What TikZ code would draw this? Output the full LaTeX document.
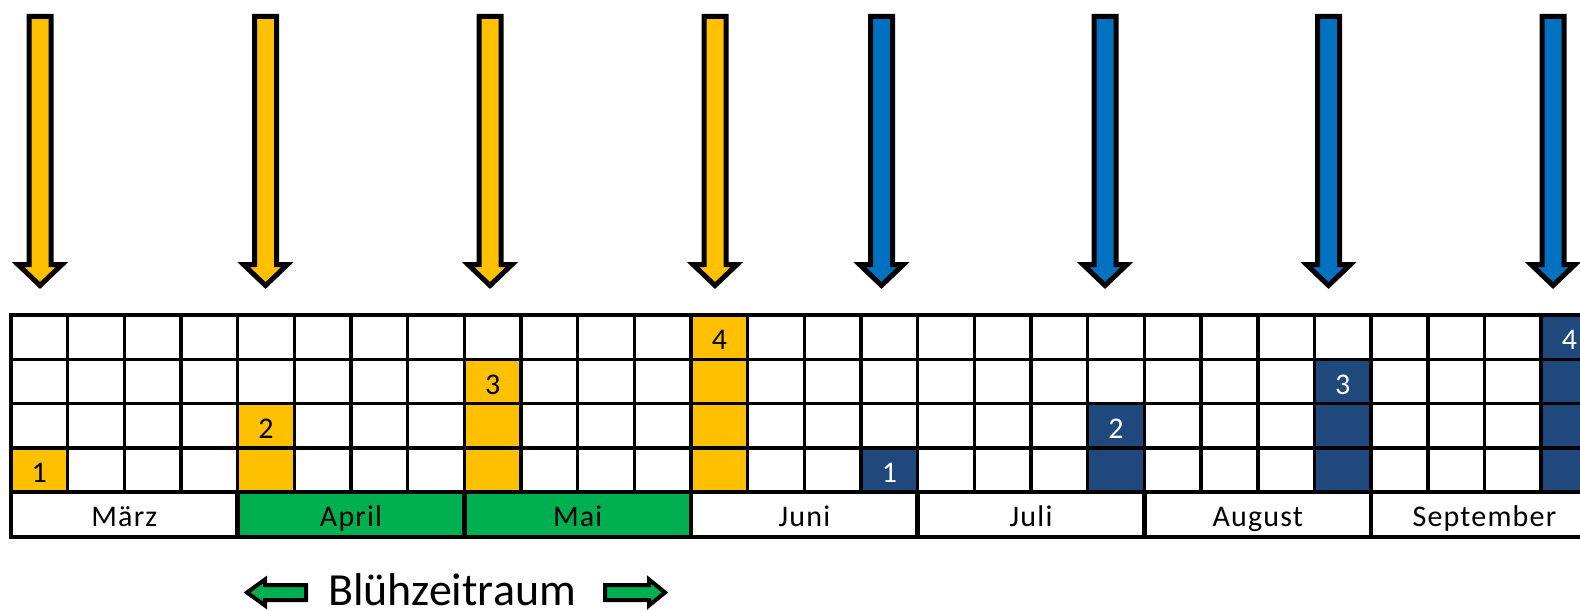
\documentclass[tikz,border=0pt]{standalone}
\usepackage{fontspec}
\setmainfont{Carlito}
\newfontfamily\spacedfont[LetterSpace=4]{Carlito}
\definecolor{amber}{HTML}{FFC000}
\definecolor{navy}{HTML}{1F497D}
\definecolor{arrowblue}{HTML}{0070C0}
\definecolor{leafgreen}{HTML}{00B050}
\newcommand\dnarrow[2]{%
  \draw[arrowshape, fill=#2] (#1-11,16.5) -- (#1+11,16.5) -- (#1+11,264.5) -- (#1+22,264.5)
    -- (#1,285.5) -- (#1-22,264.5) -- (#1-11,264.5) -- cycle;}
\begin{document}
\begin{tikzpicture}[x=1bp,y=-1bp,
  arrowshape/.style={line width=5bp, line join=miter, draw=black},
  gridline/.style={line width=3.5bp, draw=black},
  monthline/.style={line width=4.5bp, draw=black},
  celltext/.style={font=\fontsize{30bp}{36bp}\selectfont, anchor=base, inner sep=0pt},
  monthtext/.style={font=\spacedfont\fontsize{30bp}{36bp}\selectfont, anchor=base, inner sep=0pt},
  bigtext/.style={font=\fontsize{46bp}{52bp}\selectfont, anchor=base, inner sep=0pt},
  greenarrow/.style={line width=4bp, line join=miter, draw=black, fill=leafgreen}]
\clip (0,0) rectangle (1580,611);
\fill[white] (0,0) rectangle (1580,611);
\def\W{56.67}
\def\H{44.25}
% down arrows
\dnarrow{40}{amber}
\dnarrow{265.5}{amber}
\dnarrow{490}{amber}
\dnarrow{715}{amber}
\dnarrow{881.5}{arrowblue}
\dnarrow{1105}{arrowblue}
\dnarrow{1328.5}{arrowblue}
\dnarrow{1553}{arrowblue}
% coloured cells
\foreach \c/\r/\col in {0/4/amber, 4/3/amber, 4/4/amber, 8/2/amber, 8/3/amber, 8/4/amber,
  12/1/amber, 12/2/amber, 12/3/amber, 12/4/amber,
  15/4/navy, 19/3/navy, 19/4/navy, 23/2/navy, 23/3/navy, 23/4/navy,
  27/1/navy, 27/2/navy, 27/3/navy, 27/4/navy}
  \fill[\col] ({11+\c*\W},{315+(\r-1)*\H}) rectangle ({11+(\c+1)*\W},{315+\r*\H});
% month fills
\fill[leafgreen] ({11+4*\W},492) rectangle ({11+12*\W},537);
% grid
\foreach \k in {0,...,28}
  \draw[gridline] ({11+\k*\W},315) -- ({11+\k*\W},492);
\foreach \r in {0,1,2,3}
  \draw[gridline] (9,{315+\r*\H}) -- (1600,{315+\r*\H});
\draw[monthline] (9,492) -- (1600,492);
\draw[monthline] (9,537) -- (1600,537);
\foreach \k in {0,4,...,28}
  \draw[monthline] ({11+\k*\W},492) -- ({11+\k*\W},537);
% numbers
\foreach \c/\r/\n/\nm/\tc in {0/4/1/ya/black, 4/3/2/yb/black, 8/2/3/yc/black, 12/1/4/yd/black,
  15/4/1/ba/white, 19/3/2/bb/white, 23/2/3/bc/white, 27/1/4/bd/white}
  \node[celltext, text=\tc] (\nm) at ({11+(\c+0.5)*\W},{315+\r*\H-9.5}) {\n};
% months
\foreach \m [count=\i from 0] in {März,April,Mai,Juni,Juli,August,September}
  \node[monthtext] (m\i) at ({11+(\i*4+2)*\W},526) {\m};
% bloom period
\node[bigtext] (bluete) at (452,605) {Blühzeitraum};
\draw[greenarrow] (306,585) -- (265,585) -- (265,579.5) -- (247,592.5) -- (265,605.5)
  -- (265,600) -- (306,600) -- cycle;
\draw[greenarrow] (605,585) -- (649,585) -- (649,579.5) -- (665,592.5) -- (649,605.5)
  -- (649,600) -- (605,600) -- cycle;
\end{tikzpicture}
\end{document}
